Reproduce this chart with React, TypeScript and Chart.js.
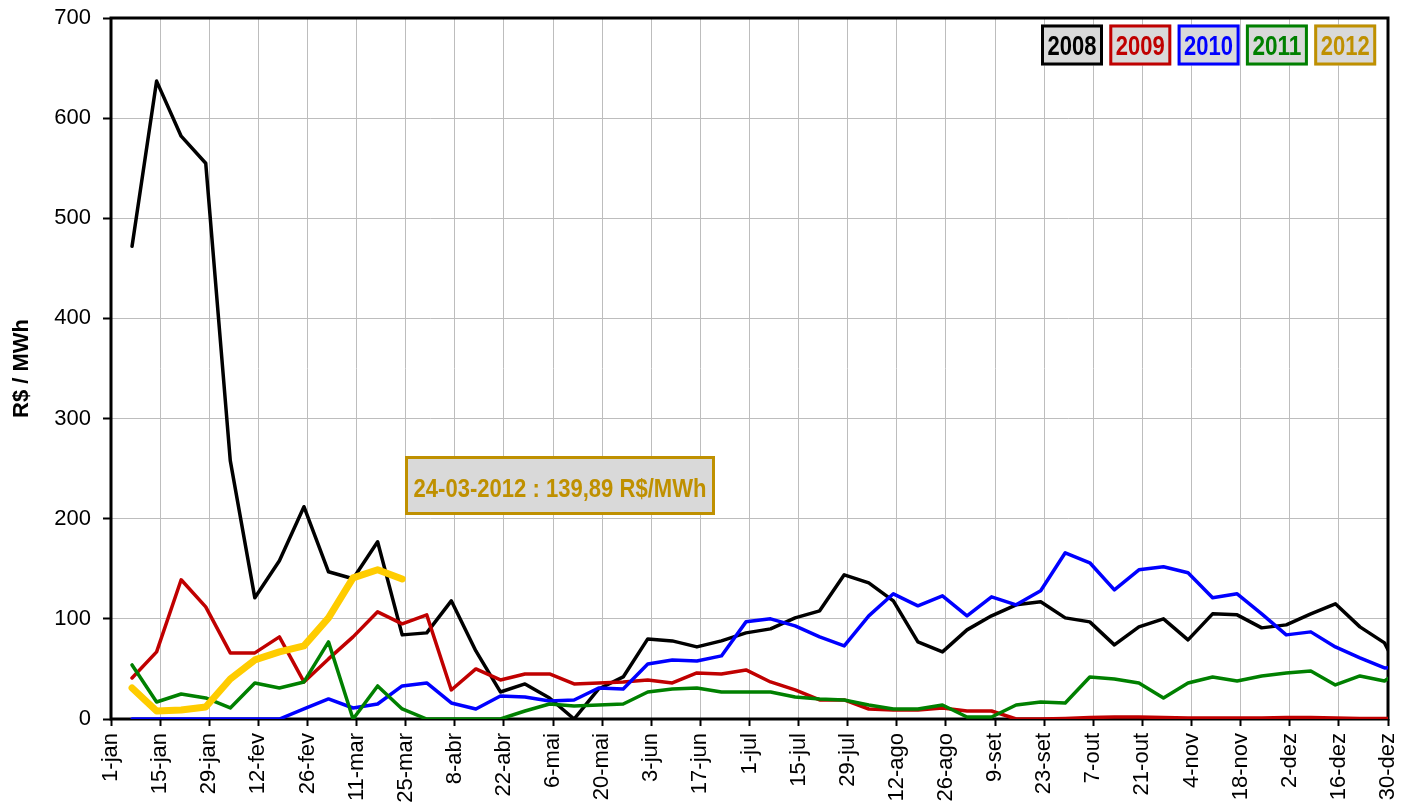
import { useEffect, useRef } from "react";
import { Chart, registerables } from "chart.js";

Chart.register(...registerables);

// x axis: days since 1-jan, labelled every 14 days
const tickLabels = [
  "1-jan", "15-jan", "29-jan", "12-fev", "26-fev", "11-mar", "25-mar", "8-abr", "22-abr",
  "6-mai", "20-mai", "3-jun", "17-jun", "1-jul", "15-jul", "29-jul", "12-ago", "26-ago",
  "9-set", "23-set", "7-out", "21-out", "4-nov", "18-nov", "2-dez", "16-dez", "30-dez",
];
const tickStepDays = 14;
const lastDay = 364;
const firstWeekDay = 6; // first weekly value: 7-jan
const daysPerWeek = 7;

const years = ["2008", "2009", "2010", "2011", "2012"];
const yearColors = ["#000000", "#C00000", "#0000FF", "#008000", "#FFCC00"];
const legendTextColors = ["#000000", "#C00000", "#0000FF", "#008000", "#BF9000"];

const pld2008 = [
  472, 637, 582, 555, 258, 121, 158, 212, 147, 140, 177, 84, 86, 118, 68, 27, 35, 21, 0, 30,
  42, 80, 78, 72, 78, 86, 90, 101, 108, 144, 136, 118, 77, 67, 89, 103, 114, 117, 101, 97,
  74, 92, 100, 79, 105, 104, 91, 94, 105, 115, 92, 76, 28,
];
const pld2009 = [
  41, 67, 139, 112, 66, 66, 82, 37, 60, 82, 107, 95, 104, 29, 50, 39, 45, 45, 35, 36,
  37, 39, 36, 46, 45, 49, 37, 29, 19, 19, 10, 9, 9, 11, 8, 8, 0, 0, 0.5, 1.5,
  2, 2, 1.5, 1, 1, 1, 1, 1.5, 1.5, 1, 0.5, 0.5, 0.5,
];
const pld2010 = [
  0, 0, 0, 0, 0, 0, 0, 10, 20, 11, 15, 33, 36, 16, 10, 23, 22, 18, 19, 31,
  30, 55, 59, 58, 63, 97, 100, 93, 82, 73, 103, 125, 113, 123, 103, 122, 114, 128, 166, 156,
  129, 149, 152, 146, 121, 125, 105, 84, 87, 72, 61, 51, 52,
];
const pld2011 = [
  54, 17, 25, 21, 11, 36, 31, 37, 77, 0, 33, 10, 0, 0, 0, 0, 8, 15, 13, 14,
  15, 27, 30, 31, 27, 27, 27, 22, 20, 19, 14, 10, 10, 14, 2, 2, 14, 17, 16, 42,
  40, 36, 21, 36, 42, 38, 43, 46, 48, 34, 43, 38, 55,
];
const pld2012 = [31, 8, 9, 12, 40, 59, 67, 73, 101, 141, 149, 139.89];

const seriesValues = [pld2008, pld2009, pld2010, pld2011, pld2012];
const lineWidths = [3.5, 3.5, 3.5, 3.5, 7];

const yTitle = "R$ / MWh";
const calloutText = "24-03-2012 : 139,89 R$/MWh";

const FONT = "'Liberation Sans', Arial, sans-serif";
const GOLD = "#BF9000";
const BOX_FILL = "#D9D9D9";

const overlayPlugin = {
  id: "overlay",
  beforeDatasetsDraw(chart: any) {
    const { ctx, chartArea: a } = chart;
    ctx.save();
    ctx.strokeStyle = "#000";
    ctx.lineWidth = 3;
    ctx.strokeRect(a.left, a.top, a.right - a.left, a.bottom - a.top);
    ctx.restore();
  },
  afterDraw(chart: any) {
    const { ctx, chartArea: a } = chart;
    ctx.save();
    // legend boxes
    const boxW = 62;
    const boxH = 41;
    const gap = 68.3;
    const x0 = a.right - 347;
    const y0 = a.top + 6.5;
    years.forEach((yr, i) => {
      const bx = x0 + i * gap;
      ctx.fillStyle = BOX_FILL;
      ctx.fillRect(bx, y0, boxW, boxH);
      ctx.strokeStyle = i === 4 ? GOLD : yearColors[i];
      ctx.lineWidth = 3;
      ctx.strokeRect(bx + 1.5, y0 + 1.5, boxW - 3, boxH - 3);
      ctx.fillStyle = legendTextColors[i];
      ctx.font = `bold 27px ${FONT}`;
      ctx.textAlign = "center";
      ctx.textBaseline = "alphabetic";
      ctx.fillText(yr, bx + boxW / 2, y0 + boxH / 2 + 9.7, 49);
    });
    // callout
    const cx = a.left + 294;
    const cy = 448;
    const cw = 310;
    const ch = 59;
    ctx.fillStyle = BOX_FILL;
    ctx.fillRect(cx, cy, cw, ch);
    ctx.strokeStyle = GOLD;
    ctx.lineWidth = 3;
    ctx.strokeRect(cx + 1.5, cy + 1.5, cw - 3, ch - 3);
    ctx.fillStyle = GOLD;
    ctx.font = `bold 25px ${FONT}`;
    ctx.textAlign = "center";
    ctx.fillText(calloutText, cx + cw / 2, cy + 40.7, 293);
    ctx.restore();
  },
};

export default function App() {
  const canvasRef = useRef<HTMLCanvasElement | null>(null);

  useEffect(() => {
    const canvas = canvasRef.current;
    if (!canvas) return;
    const datasets = years.map((yr, i) => ({
      label: yr,
      data: seriesValues[i].map((v, k) => ({ x: firstWeekDay + k * daysPerWeek, y: v })),
      borderColor: yearColors[i],
      backgroundColor: yearColors[i],
      borderWidth: lineWidths[i],
      pointRadius: 0,
      pointHoverRadius: 0,
      tension: 0,
      fill: false,
      borderJoinStyle: "round" as const,
      borderCapStyle: "round" as const,
      order: years.length - 1 - i,
    }));

    const chart = new Chart(canvas, {
      type: "line",
      data: { datasets },
      plugins: [overlayPlugin],
      options: {
        animation: false,
        responsive: false,
        devicePixelRatio: 1,
        layout: { padding: { top: 10, right: 23, left: 0, bottom: 0 } },
        plugins: {
          legend: { display: false },
          tooltip: { enabled: false },
          title: { display: false },
        },
        scales: {
          x: {
            type: "linear",
            min: 0,
            max: lastDay,
            border: { display: false },
            grid: {
              color: "#BDBDBD",
              lineWidth: 1,
              tickColor: "#000",
              tickLength: 7,
              tickWidth: 2,
            },
            ticks: {
              stepSize: tickStepDays,
              autoSkip: false,
              maxRotation: 90,
              minRotation: 90,
              padding: 7,
              color: "#000",
              font: { family: FONT, size: 22 },
              callback: (v: any) => tickLabels[Math.round(Number(v) / tickStepDays)] ?? "",
            },
            afterFit: (s: any) => {
              s.height = 91;
              s.paddingLeft = 0;
              s.paddingRight = 0;
            },
          },
          y: {
            type: "linear",
            min: 0,
            max: 700,
            border: { display: false },
            grid: {
              color: "#BDBDBD",
              lineWidth: 1,
              tickColor: "#000",
              tickLength: 8,
              tickWidth: 2,
            },
            ticks: {
              stepSize: 100,
              padding: 12,
              color: "#000",
              font: { family: FONT, size: 22 },
            },
            title: {
              display: true,
              text: yTitle,
              color: "#000",
              padding: { top: 3, bottom: 0 },
              font: { family: FONT, size: 22, weight: "bold", lineHeight: 1 },
            },
            afterFit: (s: any) => {
              s.width = 103;
              s.paddingTop = 0;
              s.paddingBottom = 0;
            },
          },
        },
      },
    });
    return () => chart.destroy();
  }, []);

  return (
    <canvas
      ref={canvasRef}
      width={1403}
      height={802}
      style={{ display: "block", width: "1403px", height: "802px" }}
    />
  );
}
